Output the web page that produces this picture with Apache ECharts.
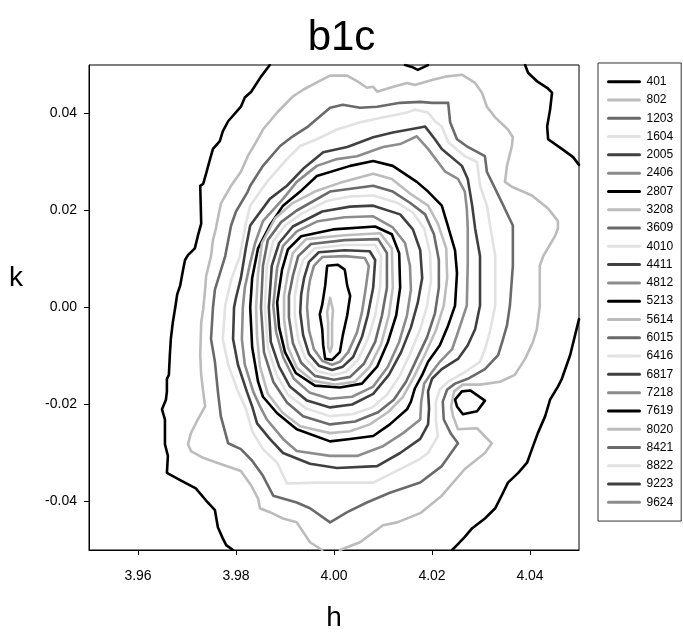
<!DOCTYPE html>
<html><head><meta charset="utf-8">
<script src="https://cdn.jsdelivr.net/npm/echarts@6/dist/echarts.min.js"></script>
<style>html,body{margin:0;padding:0;background:#fff}#c{width:683px;height:637px}</style>
</head><body><div id="c"></div>
<script>
// ---- data ----
const chartTitle = 'b1c';
const xName = 'h';
const yName = 'k';
const xTicks = [3.96, 3.98, 4.00, 4.02, 4.04];
const yTicks = [-0.04, -0.02, 0.00, 0.02, 0.04];
const levels = ['401','802','1203','1604','2005','2406','2807','3208','3609','4010','4411','4812','5213','5614','6015','6416','6817','7218','7619','8020','8421','8822','9223','9624'];

// contour polylines [h, k]
const c401a = [[3.9869,0.05],[3.9851,0.0476],[3.9831,0.0445],[3.9818,0.0433],[3.9810,0.0414],[3.9784,0.0384],[3.9773,0.0363],[3.9767,0.0343],[3.9753,0.0327],[3.9747,0.0306],[3.9739,0.0276],[3.9733,0.0255],[3.9727,0.0251],[3.9729,0.0173],[3.9722,0.0147],[3.9716,0.0122],[3.9702,0.0108],[3.9696,0.0098],[3.9692,0.0078],[3.9686,0.0045],[3.9680,0.0027],[3.9676,0.0],[3.9671,-0.0031],[3.9667,-0.0065],[3.9665,-0.0098],[3.9663,-0.0139],[3.9659,-0.0147],[3.9659,-0.0173],[3.9657,-0.0190],[3.9649,-0.0210],[3.9655,-0.0231],[3.9655,-0.0282],[3.9661,-0.0306],[3.9659,-0.0341],[3.9688,-0.0357],[3.9718,-0.0373],[3.9739,-0.0398],[3.9757,-0.0418],[3.9763,-0.0453],[3.9773,-0.0476],[3.9780,-0.0490],[3.9794,-0.05]];
const c401b = [[4.0390,0.05],[4.0396,0.0484],[4.0416,0.0465],[4.0435,0.0453],[4.0445,0.0443],[4.0441,0.0408],[4.0435,0.0373],[4.0437,0.0347],[4.0465,0.0327],[4.0488,0.0310],[4.05,0.0294]];
const c401c = [[4.05,-0.0024],[4.0492,-0.0057],[4.0482,-0.0098],[4.0465,-0.0147],[4.0457,-0.0163],[4.0441,-0.0190],[4.0431,-0.0224],[4.0416,-0.0259],[4.0404,-0.0292],[4.0394,-0.0320],[4.0376,-0.0341],[4.0355,-0.0361],[4.0345,-0.0382],[4.0329,-0.0414],[4.0308,-0.0435],[4.0282,-0.0455],[4.0267,-0.0473],[4.0251,-0.0490],[4.0241,-0.05]];
const c401d = [[4.0145,0.05],[4.0159,0.0496],[4.0171,0.0490],[4.0184,0.0496],[4.0192,0.05]];
const c401e = [[4.0261,-0.0173],[4.0278,-0.0171],[4.0308,-0.0192],[4.0292,-0.0214],[4.0263,-0.0220],[4.0251,-0.0204],[4.0247,-0.0190],[4.0261,-0.0173]];
const c802 = [[3.9976,-0.05],[3.9951,-0.0484],[3.9924,-0.0443],[3.9896,-0.0435],[3.9869,-0.0422],[3.9849,-0.0414],[3.9845,-0.0394],[3.9831,-0.0367],[3.9810,-0.0337],[3.9767,-0.0322],[3.9733,-0.0310],[3.9708,-0.0296],[3.9702,-0.0282],[3.9708,-0.0259],[3.9722,-0.0231],[3.9737,-0.0204],[3.9733,-0.0173],[3.9729,-0.0139],[3.9727,-0.0098],[3.9729,-0.0031],[3.9733,-0.0004],[3.9737,0.0037],[3.9739,0.0065],[3.9749,0.0106],[3.9753,0.0139],[3.9759,0.0163],[3.9763,0.0184],[3.9769,0.0214],[3.9790,0.0251],[3.9810,0.0280],[3.9824,0.0312],[3.9841,0.0341],[3.9855,0.0367],[3.9884,0.0402],[3.9916,0.0435],[3.9937,0.0449],[3.9967,0.0465],[3.9992,0.0478],[4.0027,0.0478],[4.0053,0.0463],[4.0067,0.0453],[4.0080,0.0455],[4.0088,0.0445],[4.0114,0.0453],[4.0149,0.0463],[4.0165,0.0459],[4.0200,0.0469],[4.0227,0.0476],[4.0261,0.0480],[4.0288,0.0463],[4.0302,0.0443],[4.0312,0.0414],[4.0329,0.0392],[4.0355,0.0367],[4.0365,0.0351],[4.0363,0.0333],[4.0353,0.0292],[4.0349,0.0259],[4.0363,0.0249],[4.0404,0.0231],[4.0437,0.0204],[4.0457,0.0178],[4.0457,0.0163],[4.0451,0.0147],[4.0427,0.0106],[4.0420,0.0086],[4.0420,0.0004],[4.0414,-0.0045],[4.0406,-0.0071],[4.0390,-0.0106],[4.0369,-0.0139],[4.0339,-0.0153],[4.0298,-0.0159],[4.0263,-0.0159],[4.0245,-0.0173],[4.0239,-0.0204],[4.0243,-0.0224],[4.0253,-0.0251],[4.0292,-0.0249],[4.0322,-0.0280],[4.0308,-0.0300],[4.0267,-0.0333],[4.0220,-0.0388],[4.0176,-0.0424],[4.0129,-0.0443],[4.0100,-0.0449],[4.0053,-0.0484],[4.0012,-0.05]];
const c1203 = [[3.9790,0.0169],[3.9778,0.0106],[3.9757,0.0037],[3.9753,0.0],[3.9749,-0.0065],[3.9757,-0.0112],[3.9763,-0.0173],[3.9769,-0.0224],[3.9784,-0.0280],[3.9810,-0.0292],[3.9833,-0.0316],[3.9855,-0.0347],[3.9876,-0.0388],[3.9924,-0.0402],[3.9951,-0.0414],[3.9992,-0.0443],[4.0027,-0.0422],[4.0067,-0.0402],[4.0114,-0.0382],[4.0176,-0.0361],[4.0220,-0.0327],[4.0253,-0.0280],[4.0239,-0.0261],[4.0224,-0.0231],[4.0222,-0.0194],[4.0231,-0.0169],[4.0247,-0.0157],[4.0273,-0.0147],[4.0308,-0.0127],[4.0335,-0.0098],[4.0345,-0.0065],[4.0353,-0.0037],[4.0359,0.0004],[4.0365,0.0086],[4.0365,0.0169],[4.0339,0.0224],[4.0312,0.0280],[4.0308,0.0312],[4.0273,0.0331],[4.0251,0.0347],[4.0237,0.0382],[4.0233,0.0422],[4.0200,0.0422],[4.0176,0.0424],[4.0135,0.0422],[4.0088,0.0414],[4.0053,0.0412],[4.0018,0.0418],[3.9992,0.0412],[3.9947,0.0373],[3.9916,0.0353],[3.9890,0.0333],[3.9855,0.0292],[3.9829,0.0251],[3.9824,0.0239],[3.9800,0.0198],[3.9790,0.0169]];
const c1604 = [[3.9829,0.0210],[3.9820,0.0173],[3.9808,0.0106],[3.9790,0.0057],[3.9778,0.0004],[3.9773,-0.0065],[3.9784,-0.0118],[3.9804,-0.0173],[3.9820,-0.0208],[3.9833,-0.0255],[3.9855,-0.0292],[3.9884,-0.0320],[3.9904,-0.0363],[3.9965,-0.0361],[4.0033,-0.0361],[4.0080,-0.0361],[4.0120,-0.0341],[4.0176,-0.0312],[4.0192,-0.0300],[4.0212,-0.0265],[4.0208,-0.0235],[4.0208,-0.0194],[4.0216,-0.0169],[4.0233,-0.0153],[4.0267,-0.0133],[4.0298,-0.0112],[4.0308,-0.0086],[4.0318,-0.0051],[4.0329,0.0004],[4.0329,0.0106],[4.0318,0.0173],[4.0312,0.0210],[4.0298,0.0251],[4.0292,0.0300],[4.0267,0.0312],[4.0233,0.0341],[4.0220,0.0373],[4.0206,0.0384],[4.0192,0.0402],[4.0165,0.0408],[4.0149,0.0402],[4.0100,0.0392],[4.0053,0.0382],[4.0006,0.0367],[3.9965,0.0347],[3.9931,0.0333],[3.9904,0.0306],[3.9863,0.0259],[3.9829,0.0210]];
const c2005 = [[3.9829,0.0169],[3.9869,0.0224],[3.9904,0.0251],[3.9937,0.0286],[3.9978,0.0320],[4.0027,0.0331],[4.0080,0.0351],[4.0120,0.0361],[4.0176,0.0371],[4.0186,0.0373],[4.0206,0.0347],[4.0220,0.0327],[4.0261,0.0292],[4.0273,0.0265],[4.0282,0.0210],[4.0288,0.0163],[4.0298,0.0106],[4.0298,0.0004],[4.0288,-0.0045],[4.0273,-0.0078],[4.0253,-0.0106],[4.0220,-0.0127],[4.0200,-0.0147],[4.0192,-0.0173],[4.0194,-0.0208],[4.0192,-0.0241],[4.0176,-0.0271],[4.0135,-0.0300],[4.0088,-0.0327],[4.0006,-0.0331],[3.9951,-0.0322],[3.9896,-0.0300],[3.9869,-0.0271],[3.9843,-0.0239],[3.9833,-0.0204],[3.9822,-0.0173],[3.9804,-0.0118],[3.9794,-0.0065],[3.9796,0.0],[3.9800,0.0020],[3.9810,0.0061],[3.9820,0.0122],[3.9829,0.0169]];
const c2406 = [[3.9855,0.0178],[3.9896,0.0224],[3.9924,0.0259],[3.9965,0.0292],[4.0006,0.0306],[4.0047,0.0312],[4.0100,0.0331],[4.0135,0.0337],[4.0169,0.0353],[4.0192,0.0327],[4.0227,0.0280],[4.0253,0.0265],[4.0267,0.0239],[4.0271,0.0204],[4.0273,0.0163],[4.0273,0.0092],[4.0271,0.0004],[4.0253,-0.0051],[4.0241,-0.0086],[4.0216,-0.0112],[4.0200,-0.0133],[4.0184,-0.0157],[4.0178,-0.0194],[4.0176,-0.0231],[4.0141,-0.0259],[4.0100,-0.0286],[4.0047,-0.0306],[3.9992,-0.0306],[3.9924,-0.0296],[3.9896,-0.0271],[3.9863,-0.0231],[3.9849,-0.0204],[3.9835,-0.0173],[3.9818,-0.0118],[3.9812,-0.0065],[3.9814,0.0],[3.9818,0.0041],[3.9829,0.0092],[3.9839,0.0133],[3.9855,0.0178]];
const c2807 = [[3.9869,0.0169],[3.9845,0.0122],[3.9833,0.0061],[3.9829,0.0],[3.9833,-0.0082],[3.9845,-0.0153],[3.9855,-0.0184],[3.9884,-0.0218],[3.9924,-0.0251],[3.9992,-0.0276],[4.0033,-0.0271],[4.0080,-0.0265],[4.0114,-0.0241],[4.0149,-0.0210],[4.0157,-0.0194],[4.0165,-0.0167],[4.0180,-0.0139],[4.0192,-0.0112],[4.0216,-0.0078],[4.0233,-0.0037],[4.0247,0.0004],[4.0251,0.0071],[4.0247,0.0118],[4.0231,0.0173],[4.0220,0.0210],[4.0192,0.0239],[4.0169,0.0259],[4.0120,0.0292],[4.0080,0.0302],[4.0033,0.0292],[3.9965,0.0271],[3.9931,0.0239],[3.9896,0.0210],[3.9869,0.0169]];
const c3208 = [[3.9845,0.0071],[3.9853,0.0133],[3.9880,0.0184],[3.9914,0.0214],[3.9961,0.0239],[4.0012,0.0257],[4.0080,0.0276],[4.0118,0.0265],[4.0155,0.0235],[4.0192,0.0210],[4.0212,0.0173],[4.0229,0.0122],[4.0231,0.0061],[4.0224,0.0004],[4.0208,-0.0047],[4.0186,-0.0096],[4.0163,-0.0143],[4.0141,-0.0184],[4.0110,-0.0216],[4.0073,-0.0241],[4.0033,-0.0255],[3.9992,-0.0259],[3.9931,-0.0245],[3.9894,-0.0216],[3.9865,-0.0178],[3.9849,-0.0122],[3.9843,-0.0061],[3.9841,0.0],[3.9845,0.0071]];
const c3609 = [[3.9855,0.0086],[3.9865,0.0139],[3.9892,0.0176],[3.9924,0.0200],[3.9992,0.0239],[4.0080,0.0251],[4.0120,0.0239],[4.0155,0.0216],[4.0186,0.0192],[4.0204,0.0151],[4.0214,0.0098],[4.0214,0.0041],[4.0206,-0.0012],[4.0190,-0.0061],[4.0169,-0.0106],[4.0147,-0.0153],[4.0122,-0.0190],[4.0090,-0.0216],[4.0043,-0.0235],[3.9992,-0.0241],[3.9937,-0.0224],[3.9904,-0.0196],[3.9876,-0.0153],[3.9857,-0.0092],[3.9851,0.0],[3.9855,0.0086]];
const c4010 = [[3.9863,0.0086],[3.9876,0.0137],[3.9902,0.0171],[3.9935,0.0194],[3.9986,0.0220],[4.0033,0.0229],[4.0080,0.0231],[4.0129,0.0216],[4.0161,0.0196],[4.0184,0.0163],[4.0196,0.0112],[4.0198,0.0057],[4.0190,0.0004],[4.0176,-0.0045],[4.0155,-0.0096],[4.0133,-0.0143],[4.0108,-0.0180],[4.0078,-0.0206],[4.0037,-0.0220],[3.9992,-0.0224],[3.9943,-0.0208],[3.9906,-0.0180],[3.9882,-0.0137],[3.9865,-0.0082],[3.9859,0.0],[3.9863,0.0086]];
const c4411 = [[3.9873,0.0086],[3.9888,0.0133],[3.9916,0.0167],[3.9976,0.0198],[4.0033,0.0208],[4.0080,0.0210],[4.0135,0.0192],[4.0161,0.0161],[4.0176,0.0118],[4.0180,0.0061],[4.0171,0.0010],[4.0157,-0.0041],[4.0137,-0.0092],[4.0112,-0.0139],[4.0080,-0.0178],[4.0037,-0.0200],[3.9992,-0.0206],[3.9945,-0.0192],[3.9910,-0.0163],[3.9888,-0.0122],[3.9871,-0.0071],[3.9867,0.0],[3.9873,0.0086]];
const c4812 = [[3.9884,0.0082],[3.9896,0.0127],[3.9924,0.0157],[3.9967,0.0178],[4.0022,0.0186],[4.0080,0.0188],[4.0120,0.0165],[4.0145,0.0133],[4.0155,0.0086],[4.0157,0.0037],[4.0149,-0.0016],[4.0133,-0.0071],[4.0110,-0.0122],[4.0080,-0.0163],[4.0037,-0.0184],[3.9992,-0.0188],[3.9951,-0.0176],[3.9918,-0.0147],[3.9896,-0.0102],[3.9882,-0.0051],[3.9876,0.0004],[3.9884,0.0082]];
const c5213 = [[3.9894,0.0078],[3.9906,0.0120],[3.9933,0.0147],[3.9998,0.0161],[4.0084,0.0167],[4.0118,0.0151],[4.0133,0.0112],[4.0135,0.0041],[4.0127,-0.0016],[4.0110,-0.0071],[4.0088,-0.0122],[4.0057,-0.0157],[4.0012,-0.0165],[3.9961,-0.0161],[3.9922,-0.0135],[3.9900,-0.0092],[3.9888,-0.0041],[3.9884,0.0010],[3.9894,0.0078]];
const c5614 = [[3.9906,0.0071],[3.9916,0.0112],[3.9943,0.0141],[4.0022,0.0149],[4.0094,0.0153],[4.0118,0.0122],[4.0120,0.0041],[4.0112,-0.0016],[4.0096,-0.0076],[4.0073,-0.0122],[4.0043,-0.0153],[4.0002,-0.0159],[3.9957,-0.0151],[3.9924,-0.0124],[3.9906,-0.0082],[3.9898,-0.0024],[3.9898,0.0024],[3.9906,0.0071]];
const c6015 = [[3.9916,0.0065],[3.9927,0.0106],[3.9953,0.0131],[4.0022,0.0139],[4.0090,0.0141],[4.0108,0.0112],[4.0108,0.0041],[4.0098,-0.0016],[4.0084,-0.0071],[4.0061,-0.0116],[4.0033,-0.0143],[4.0000,-0.0149],[3.9961,-0.0141],[3.9933,-0.0114],[3.9916,-0.0073],[3.9908,-0.0020],[3.9908,0.0024],[3.9916,0.0065]];
const c6416 = [[3.9927,0.0065],[3.9937,0.0098],[3.9961,0.0122],[4.0022,0.0129],[4.0084,0.0129],[4.0096,0.0106],[4.0094,0.0041],[4.0084,-0.0016],[4.0069,-0.0065],[4.0049,-0.0108],[4.0024,-0.0133],[3.9998,-0.0139],[3.9965,-0.0131],[3.9941,-0.0104],[3.9927,-0.0065],[3.9920,-0.0016],[3.9920,0.0024],[3.9927,0.0065]];
const c6817 = [[3.9939,0.0061],[3.9949,0.0094],[3.9969,0.0114],[4.0022,0.0118],[4.0073,0.0116],[4.0084,0.0098],[4.0080,0.0041],[4.0069,-0.0016],[4.0057,-0.0061],[4.0039,-0.0102],[4.0018,-0.0122],[3.9996,-0.0129],[3.9969,-0.0120],[3.9949,-0.0096],[3.9937,-0.0057],[3.9931,-0.0010],[3.9933,0.0027],[3.9939,0.0061]];
const c7218 = [[3.9951,0.0057],[3.9959,0.0086],[3.9976,0.0104],[4.0022,0.0106],[4.0063,0.0102],[4.0071,0.0086],[4.0065,0.0041],[4.0057,-0.0010],[4.0047,-0.0051],[4.0029,-0.0092],[4.0012,-0.0112],[3.9996,-0.0118],[3.9976,-0.0110],[3.9959,-0.0086],[3.9949,-0.0047],[3.9945,0.0],[3.9947,0.0031],[3.9951,0.0057]];
const c7619 = [[3.9986,0.0086],[4.0008,0.0088],[4.0022,0.0078],[4.0027,0.0045],[4.0033,0.0024],[4.0027,-0.0016],[4.0018,-0.0057],[4.0012,-0.0092],[3.9996,-0.0108],[3.9982,-0.0106],[3.9978,-0.0078],[3.9976,-0.0045],[3.9971,-0.0014],[3.9976,0.0006],[3.9982,0.0045],[3.9986,0.0086]];
const c8020 = [[3.9992,0.0020],[3.9998,-0.0006],[3.9996,-0.0031],[3.9996,-0.0078],[3.9992,-0.0092],[3.9988,-0.0082],[3.9988,-0.0031],[3.9986,-0.0010],[3.9992,0.0020]];

// ---- build ----
const contourPieces = {
  '401': [c401a, c401b, c401c, c401d, c401e], '802': [c802], '1203': [c1203], '1604': [c1604],
  '2005': [c2005], '2406': [c2406], '2807': [c2807], '3208': [c3208], '3609': [c3609],
  '4010': [c4010], '4411': [c4411], '4812': [c4812], '5213': [c5213], '5614': [c5614],
  '6015': [c6015], '6416': [c6416], '6817': [c6817], '7218': [c7218], '7619': [c7619], '8020': [c8020]
};
const palette = ['#000000', '#bcbcbc', '#6a6a6a', '#e2e2e2', '#404040', '#8c8c8c'];
const FONT = '"Liberation Sans", Arial, sans-serif';

const series = [];
levels.forEach((lv, i) => {
  const color = palette[i % palette.length];
  const pieces = contourPieces[lv] || [[]];
  pieces.forEach(p => {
    series.push({
      type: 'line', name: lv, data: p, symbol: 'none', showSymbol: false, smooth: false,
      lineStyle: { color: color, width: 2.6, join: 'round', cap: 'round' },
      itemStyle: { color: color }, emphasis: { disabled: true }, z: 3, silent: true
    });
  });
});

const chart = echarts.init(document.getElementById('c'), null, { renderer: 'canvas' });
chart.setOption({
  animation: false,
  backgroundColor: '#ffffff',
  title: { text: chartTitle, left: 'center', top: 12, textStyle: { fontSize: 42, fontWeight: 'normal', color: '#000', fontFamily: FONT } },
  grid: { left: 89, top: 65, width: 490, height: 490, show: true, borderColor: '#000', borderWidth: 1, backgroundColor: 'transparent' },
  legend: {
    orient: 'vertical', left: 598, top: 63, padding: [12.7, 8, 12.7, 9],
    itemWidth: 31, itemHeight: 12, itemGap: 6.29, selectedMode: false,
    borderColor: '#333', borderWidth: 1, data: levels,
    itemStyle: { opacity: 0 },
    lineStyle: { width: 3 },
    textStyle: { fontSize: 12, color: '#000', fontFamily: FONT, lineHeight: 12, padding: [0, 0, 0, 2] }
  },
  xAxis: {
    type: 'value', min: 3.95, max: 4.05, name: xName, nameLocation: 'middle', nameGap: 54,
    nameTextStyle: { fontSize: 28, color: '#000', fontFamily: FONT },
    axisLine: { show: true, onZero: false, lineStyle: { color: '#000', width: 1 } },
    axisTick: { show: true, length: 5, customValues: xTicks, lineStyle: { color: '#000' } },
    axisLabel: { customValues: xTicks, formatter: v => v.toFixed(2), fontSize: 14, color: '#000', fontFamily: FONT, margin: 19 },
    splitLine: { show: false }
  },
  yAxis: {
    type: 'value', min: -0.05, max: 0.05,
    axisLine: { show: true, onZero: false, lineStyle: { color: '#000', width: 1 } },
    axisTick: { show: true, length: 5, customValues: yTicks, lineStyle: { color: '#000' } },
    axisLabel: { customValues: yTicks, formatter: v => v.toFixed(2), fontSize: 14, color: '#000', fontFamily: FONT, margin: 12 },
    splitLine: { show: false }
  },
  graphic: [
    { type: 'text', left: 9, top: 264, style: { text: yName, fontSize: 28, fill: '#000', fontFamily: FONT } }
  ],
  series: series
});
</script></body></html>
